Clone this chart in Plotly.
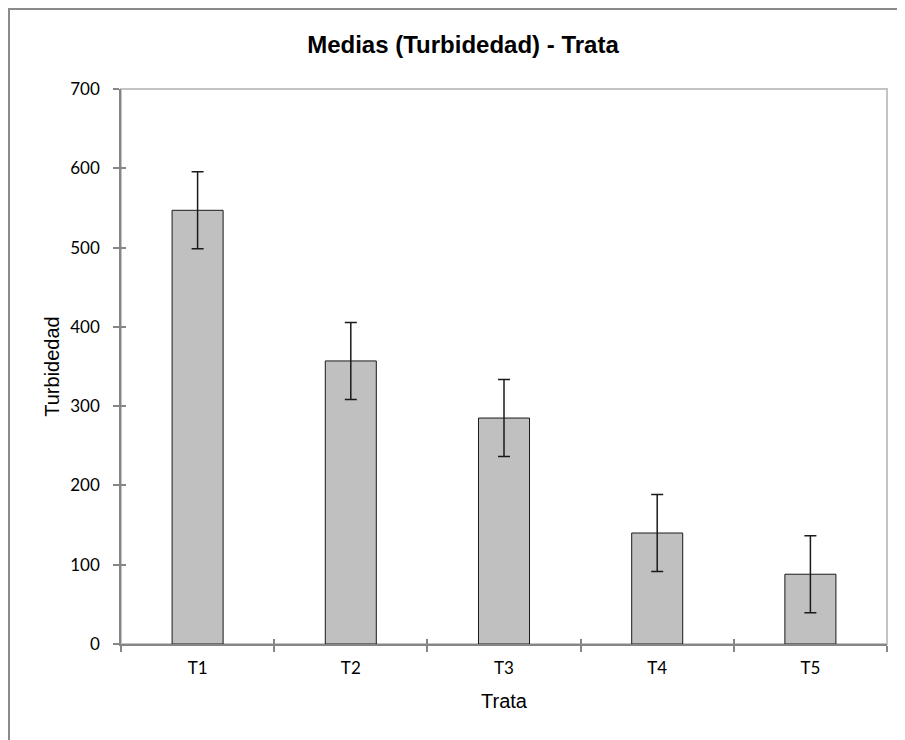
import plotly.graph_objects as go

trata = ["T1", "T2", "T3", "T4", "T5"]
medias = [547, 357, 285, 140, 88]
error = [48.5, 48.5, 48.5, 48.5, 48.5]

fig = go.Figure()
fig.add_trace(go.Bar(
    x=trata, y=medias,
    marker=dict(color="#c0c0c0", line=dict(color="#1a1a1a", width=1)),
    error_y=dict(type="data", array=error, color="#1a1a1a", thickness=1.5, width=6),
    showlegend=False,
))
# invisible copy on overlay axes, only used to draw the inner half of the crossing ticks
fig.add_trace(go.Scatter(
    x=trata, y=medias, xaxis="x2", yaxis="y2", mode="markers",
    marker=dict(opacity=0), hoverinfo="skip", showlegend=False,
))

tick_font = dict(family="Lato", size=17, color="#000000")

# page has an 8px body margin, so the figure is shrunk by 8px to keep the same framing
W, H = 897, 732
fig.update_layout(
    width=W, height=H,
    margin=dict(l=113, r=18, t=81, b=96),
    paper_bgcolor="white", plot_bgcolor="white",
    bargap=0.667,
    title=dict(text="<b>Medias (Turbidedad) - Trata</b>",
               font=dict(family="Liberation Sans", size=24, color="#000000"),
               x=455 / W, xanchor="center", y=1 - 37 / H, yanchor="middle"),
    xaxis=dict(
        showline=True, linecolor="#868686", linewidth=1.5,
        ticks="outside", ticklen=6, tickcolor="#868686", tickwidth=1.5,
        tickson="boundaries", showgrid=False, tickfont=tick_font,
        ticklabelstandoff=8,
        title=dict(text="Trata", font=dict(family="Liberation Sans", size=20, color="#000000"),
                   standoff=17),
    ),
    yaxis=dict(
        range=[0, 700], dtick=100, showline=True, linecolor="#868686", linewidth=1.5,
        ticks="outside", ticklen=6, tickcolor="#868686", tickwidth=1.5,
        showgrid=False, zeroline=False, tickfont=tick_font,
        ticklabelstandoff=10,
        title=dict(text="Turbidedad", font=dict(family="Liberation Sans", size=20, color="#000000"),
                   standoff=5),
    ),
    xaxis2=dict(overlaying="x", matches="x", ticks="inside", ticklen=5, tickcolor="#868686",
                tickwidth=1.5, tickson="boundaries", showticklabels=False, showgrid=False,
                showline=False),
    yaxis2=dict(overlaying="y", matches="y", ticks="inside", ticklen=5, tickcolor="#868686",
                tickwidth=1.5, showticklabels=False, showgrid=False, zeroline=False,
                showline=False, dtick=100),
    shapes=[
        # plot area border
        dict(type="rect", xref="x domain", yref="y domain", x0=0, x1=1, y0=0, y1=1,
             line=dict(color="#c4c4c4", width=2), layer="below"),
        # outer chart frame (clipped on the right and bottom)
        dict(type="rect", xref="paper", yref="paper", x0=(1 - 113) / 766, x1=1.2,
             y0=-0.3, y1=(636 - 1) / 555, line=dict(color="#8a8a8a", width=2)),
    ],
)

fig.write_html("out.html")
